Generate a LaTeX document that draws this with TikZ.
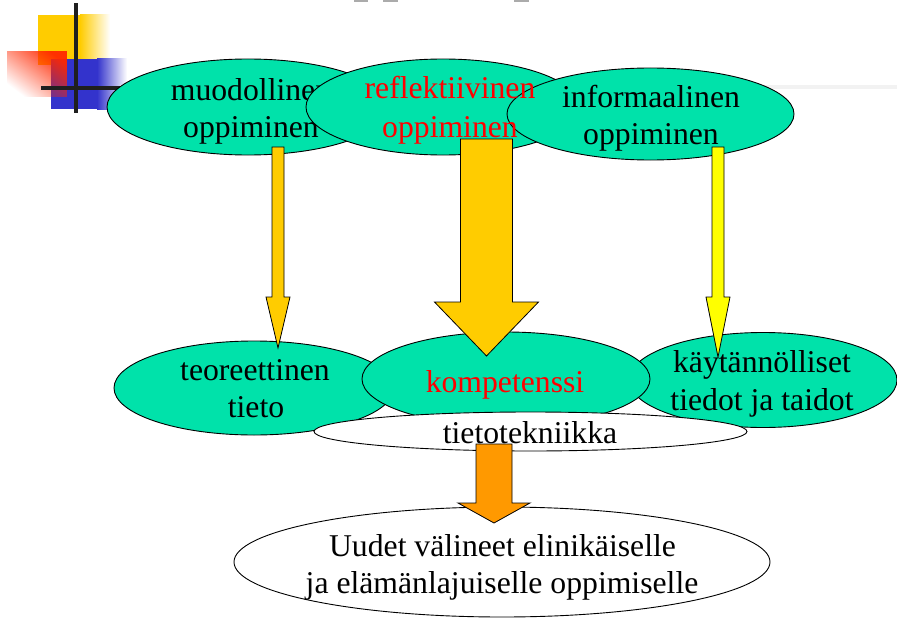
\documentclass[tikz,border=0pt]{standalone}
\usepackage{fontspec}
\setmainfont{Liberation Serif}
\usetikzlibrary{shapes.geometric,fadings}

\definecolor{oval}{RGB}{0,226,170}
\definecolor{gold}{RGB}{255,204,0}
\definecolor{lemon}{RGB}{255,255,0}
\definecolor{amber}{RGB}{255,153,0}
\definecolor{logoblue}{RGB}{51,51,204}
\definecolor{logored}{RGB}{255,40,0}
\definecolor{rule}{RGB}{242,242,242}

\tikzfading[name=redfade, left color=transparent!100, right color=transparent!5]

% block arrow pointing down: centre x, top y, head start y, tip y,
% half shaft width, half head width, fill colour
\newcommand\downblock[7]{%
  \filldraw[fill=#7, draw=black, line width=0.8pt, line join=miter]
    ({#1-#5},#2) -- ({#1+#5},#2) -- ({#1+#5},#3) -- ({#1+#6},#3)
    -- (#1,#4) -- ({#1-#6},#3) -- ({#1-#5},#3) -- cycle;}

\tikzset{
  greenoval/.style={ellipse, draw=black, line width=0.9pt, fill=oval, inner sep=0pt},
  whiteoval/.style={ellipse, draw=black, line width=0.9pt, fill=white, inner sep=0pt},
  lbl/.style={anchor=base, inner sep=0pt, font=\fontsize{31.7pt}{37pt}\selectfont},
  redlbl/.style={lbl, text=red},
}

\begin{document}
\begin{tikzpicture}[x=1pt, y=-1pt]
\useasboundingbox (0,0) rectangle (897,618);
\fill[white] (0,0) rectangle (897,618);

% fragments of the heading above the frame
\fill[black!33] (354,0) rectangle (368,2.5);
\fill[black!33] (383,0) rectangle (398,2.5);
\fill[black!33] (514,0) rectangle (529,2.5);

% corner logo
\fill[gold] (38,15) rectangle (80,65);
\shade[left color=gold, right color=white] (80,15) rectangle (110,65);
\fill[logoblue] (51,59) rectangle (97,109);
\shade[left color=logoblue, right color=white] (97,59) rectangle (127,109);
\fill[logored, path fading=redfade, fading angle=45] (7,51) rectangle (67,97);
\fill[rule] (120,85.5) rectangle (897,88.5);
\fill[black!88] (74,3) rectangle (78,113);
\fill[black!88] (41,86) rectangle (130,90);

% upper row of learning forms
\node[greenoval, minimum width=282pt, minimum height=96pt] (muod) at (248,107) {};
\node[lbl] (muodA) at (251,100) {muodollinen};
\node[lbl] (muodB) at (251,137) {oppiminen};

\node[greenoval, minimum width=274pt, minimum height=96pt] (refl) at (443,107) {};
\node[greenoval, minimum width=287pt, minimum height=92pt] (info) at (650.5,114) {};
\node[redlbl] (reflA) at (450,99) {reflektiivinen};
\node[redlbl] (reflB) at (450,137) {oppiminen};
\node[lbl] (infoA) at (651,107) {informaalinen};
\node[lbl] (infoB) at (651,144) {oppiminen};

% middle row
\node[greenoval, minimum width=280pt, minimum height=94pt] (teo) at (254,388) {};
\node[greenoval, minimum width=268pt, minimum height=95pt] (kay) at (763,380) {};
\node[greenoval, minimum width=288pt, minimum height=94pt] (komp) at (506,379) {};
\node[whiteoval, minimum width=433pt, minimum height=39pt] (tvt) at (530.5,431.5) {};
\node[lbl] (teoA) at (255,380) {teoreettinen};
\node[lbl] (teoB) at (256,417) {tieto};
\node[lbl] (kayA) at (762,372) {käytännölliset};
\node[lbl] (kayB) at (762,410) {tiedot ja taidot};
\node[redlbl] (kompA) at (505,392) {kompetenssi};
\node[lbl] (tvtA) at (530,443) {tietotekniikka};

% arrows from the learning forms
\downblock{278}{147}{297}{348}{6}{12}{gold}
\downblock{486.5}{139}{302}{356}{26}{52}{gold}
\downblock{718}{147}{297}{357}{6}{12}{lemon}

% result
\node[whiteoval, minimum width=536pt, minimum height=110pt] (uudet) at (502,562) {};
\node[lbl] (uudetA) at (502.5,556) {Uudet välineet elinikäiselle};
\node[lbl] (uudetB) at (502,593) {ja elämänlajuiselle oppimiselle};

\downblock{494}{444}{503}{523}{18}{36}{amber}
\end{tikzpicture}
\end{document}
